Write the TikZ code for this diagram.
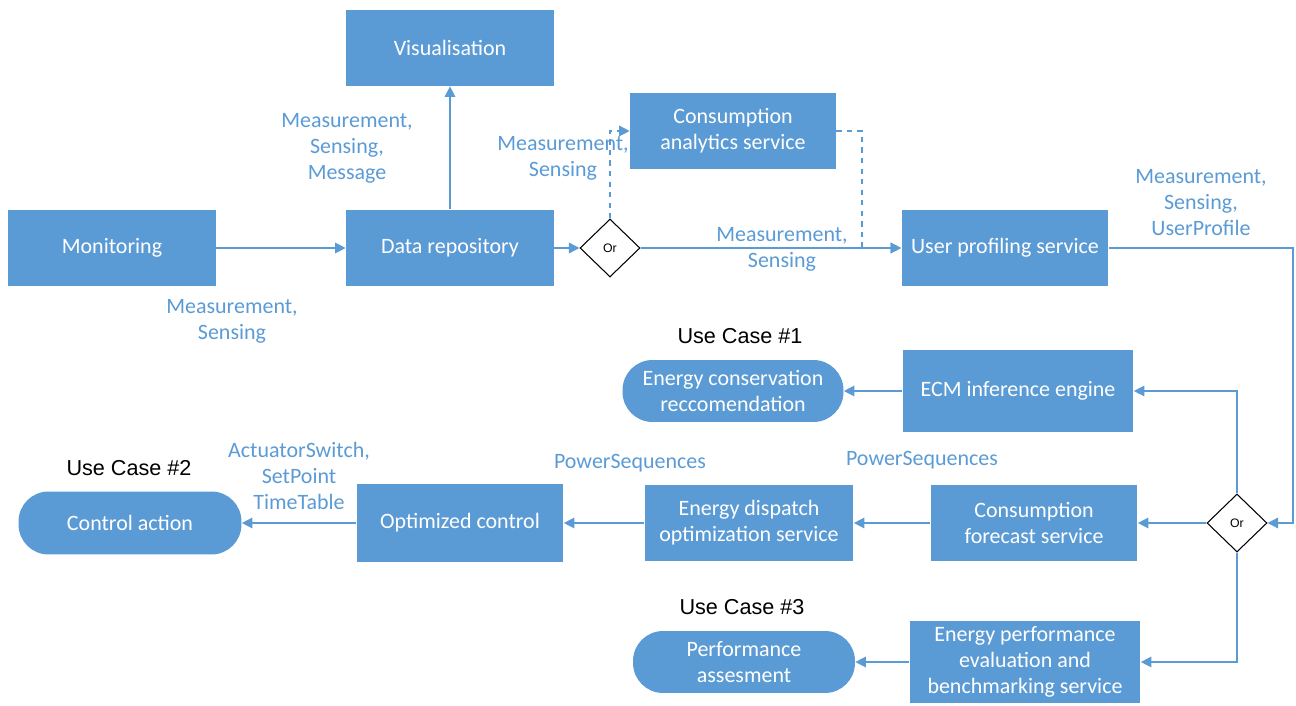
\documentclass[tikz,border=0pt]{standalone}
\usepackage{fontspec}
\setmainfont{Carlito}
\newfontfamily\arialf{Liberation Sans}
\usetikzlibrary{shapes.geometric,arrows.meta}
\definecolor{obox}{HTML}{5B9BD5}
\definecolor{olab}{HTML}{5B9BD5}
\tikzset{
  box/.style={draw=none,fill=obox,text=white,inner sep=0pt,align=center,font=\fontsize{12.5pt}{14.8pt}\selectfont},
  pill/.style={box,rounded corners=0.6cm},
  ordia/.style={diamond,draw=black,fill=white,line width=0.6pt,inner sep=0pt,minimum width=1.2cm,minimum height=1.16cm,font=\arialf\fontsize{7pt}{8pt}\selectfont},
  lab/.style={text=olab,align=center,inner sep=0pt,font=\fontsize{12.5pt}{14.8pt}\selectfont},
  uc/.style={text=black,inner sep=0pt,font=\arialf\fontsize{12.3pt}{14pt}\selectfont},
  conn/.style={draw=obox,line width=0.8pt,-{Triangle[length=6pt,width=6pt]}},
  dconn/.style={conn,dashed},
  plain/.style={draw=obox,line width=0.8pt}
}
\begin{document}
\begin{tikzpicture}[x=0.02cm,y=-0.02cm]
\useasboundingbox (0,0) rectangle (1296,706);
% top row
\node[box,minimum width=4.16cm,minimum height=1.54cm] (mon) at (112,248) {Monitoring};
\node[box,minimum width=4.16cm,minimum height=1.54cm] (dr) at (450,248) {Data repository};
\node[box,minimum width=4.16cm,minimum height=1.52cm] (vis) at (450,48) {Visualisation};
\node[ordia] (or1) at (610,248) {Or};
\node[box,minimum width=4.12cm,minimum height=1.52cm] (ca) at (733,131) {Consumption\\analytics service};
\node[box,minimum width=4.14cm,minimum height=1.54cm] (ups) at (1005,248) {User profiling service};
% right column
\node[ordia] (or2) at (1237,523) {Or};
\node[box,minimum width=4.62cm,minimum height=1.64cm] (ecm) at (1018,391) {ECM inference engine};
\node[box,minimum width=4.14cm,minimum height=1.52cm] (cf) at (1034,523) {Consumption\\forecast service};
\node[box,minimum width=4.62cm,minimum height=1.64cm] (epe) at (1025,662) {Energy performance\\evaluation and\\benchmarking service};
% use cases and middle
\node[pill,minimum width=4.42cm,minimum height=1.24cm] (ecr) at (733,391) {Energy conservation\\reccomendation};
\node[box,minimum width=4.18cm,minimum height=1.52cm] (edo) at (749,523) {Energy dispatch\\optimization service};
\node[box,minimum width=4.14cm,minimum height=1.56cm] (oc) at (460,523) {Optimized control};
\node[pill,minimum width=4.46cm,minimum height=1.26cm] (ctl) at (130,523) {Control action};
\node[pill,minimum width=4.44cm,minimum height=1.24cm] (pa) at (744,662) {Performance\\assesment};
% use case titles
\node[uc] (uc1) at (740,336) {Use Case \#1};
\node[uc] (uc2) at (129,468) {Use Case \#2};
\node[uc] (uc3) at (742,607) {Use Case \#3};
% labels
\node[lab] (l1) at (232,321) {Measurement,\\Sensing};
\node[lab] (l2) at (347,148) {Measurement,\\Sensing,\\Message};
\node[lab] (l3) at (563,158) {Measurement,\\Sensing};
\node[lab] (l4) at (782,249) {Measurement,\\Sensing};
\node[lab] (l5) at (1201,203) {Measurement,\\Sensing,\\UserProfile};
\node[lab] (l6) at (922,460) {PowerSequences};
\node[lab] (l7) at (630,463) {PowerSequences};
\node[lab] (l8) at (299,476) {ActuatorSwitch,\\SetPoint\\TimeTable};
% connectors
\coordinate (c1) at (862,131);
\coordinate (c2) at (862,248);
\coordinate (c3) at (1293,248);
\coordinate (c4) at (1293,523);
\draw[conn] (mon) -- (dr);
\draw[conn] (dr) -- (vis);
\draw[conn] (dr) -- (or1);
\draw[dconn] (or1.north) |- (ca.west);
\draw[dconn] (ca.east) -- (c1) -- (c2) -- (ups.west);
\draw[conn] (or1.east) -- (ups.west);
\draw[conn] (ups.east) -- (c3) -- (c4) -- (or2.east);
\draw[conn] (or2.north) |- (ecm.east);
\draw[conn] (or2.west) -- (cf.east);
\draw[conn] (or2.south) |- (epe.east);
\draw[conn] (ecm) -- (ecr);
\draw[conn] (cf) -- (edo);
\draw[conn] (edo) -- (oc);
\draw[conn] (oc) -- (ctl);
\draw[conn] (epe) -- (pa);
\end{tikzpicture}
\end{document}
